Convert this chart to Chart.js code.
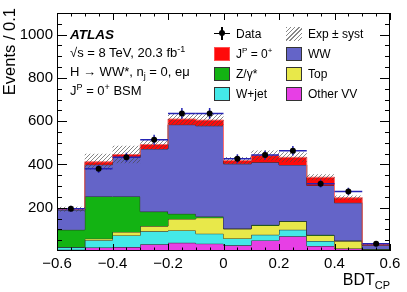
<!DOCTYPE html>
<html><head><meta charset="utf-8">
<script src="https://cdn.jsdelivr.net/npm/chart.js@4.4.0/dist/chart.umd.min.js"></script>
<style>
html,body{margin:0;padding:0;background:#fff;}
#wrap{position:relative;width:407px;height:292px;font-family:"Liberation Sans",Arial,Helvetica,sans-serif;color:#000;overflow:hidden;}
#c{position:absolute;left:0;top:0;}
.t{position:absolute;white-space:nowrap;line-height:14px;}
.sw{position:absolute;width:16px;height:14px;box-sizing:border-box;border:1px solid #333;}
sup,sub{line-height:0;}
</style></head><body>
<div id="wrap">
<canvas id="c" width="407" height="292"></canvas>
<div class="t" style="left:0;top:128px;width:120px;line-height:18px;text-align:right;font-size:16.5px;transform-origin:0 0;transform:rotate(-90deg);">Events / 0.1</div>
<div class="t" style="right:17px;top:270px;font-size:16px;line-height:20px;">BDT<sub style="font-size:11px;vertical-align:-4px;">CP</sub></div>

<div class="t" style="left:70px;top:28px;font-size:13.5px;font-weight:bold;font-style:italic;">ATLAS</div>
<div class="t" style="left:70px;top:46px;font-size:13px;">√s = 8 TeV, 20.3 fb<sup style="font-size:9px;vertical-align:5px;">-1</sup></div>
<div class="t" style="left:70px;top:65px;font-size:13px;">H → WW*, n<sub style="font-size:9px;vertical-align:-3px;">j</sub> = 0, eμ</div>
<div class="t" style="left:70px;top:84px;font-size:13px;">J<sup style="font-size:9px;vertical-align:5px;">P</sup> = 0<sup style="font-size:9px;vertical-align:5px;">+</sup> BSM</div>

<!-- legend column 1 -->
<div style="position:absolute;left:214px;top:32.5px;width:16px;height:1.5px;background:#000;"></div>
<div style="position:absolute;left:221.3px;top:27px;width:1.5px;height:13px;background:#000;"></div>
<div style="position:absolute;left:219px;top:30.3px;width:6px;height:6px;border-radius:50%;background:#000;"></div>
<div class="t" style="left:236px;top:26.5px;font-size:12px;">Data</div>
<div class="sw" style="left:214px;top:46.5px;background:#ff0a0a;border-color:#ff5050;"></div>
<div class="t" style="left:236px;top:46.5px;font-size:12px;">J<sup style="font-size:8px;vertical-align:5px;">P</sup> = 0<sup style="font-size:8px;vertical-align:5px;">+</sup></div>
<div class="sw" style="left:214px;top:66.5px;background:#13b313;"></div>
<div class="t" style="left:236px;top:66.5px;font-size:12px;">Z/γ*</div>
<div class="sw" style="left:214px;top:87px;background:#44e8e8;"></div>
<div class="t" style="left:236px;top:87px;font-size:12px;">W+jet</div>
<!-- legend column 2 -->
<div class="sw" style="left:286px;top:26.5px;border:none;background:repeating-linear-gradient(135deg,#888 0 1px,transparent 1px 3px);"></div>
<div class="t" style="left:308px;top:26.5px;font-size:12px;">Exp ± syst</div>
<div class="sw" style="left:286px;top:46.5px;background:#6464c8;"></div>
<div class="t" style="left:308px;top:46.5px;font-size:12px;">WW</div>
<div class="sw" style="left:286px;top:66.5px;background:#e8e84a;"></div>
<div class="t" style="left:308px;top:66.5px;font-size:12px;">Top</div>
<div class="sw" style="left:286px;top:87px;background:#e73fe5;"></div>
<div class="t" style="left:308px;top:87px;font-size:12px;">Other VV</div>
</div>
<script>
// ---- data ----
const binEdges = [-0.6,-0.5,-0.4,-0.3,-0.2,-0.1,0,0.1,0.2,0.3,0.4,0.5,0.6];
const otherVV  = [6,16,18,31,38,34,26,49,68,23,11,3];
const wJet     = [12,34,54,60,57,46,32,26,30,23,1,2];
const topQuark = [0,7,16,24,53,74,44,43,39,26,34,3];
const zGamma   = [80,195,164,67,24,6,2,3,2,3,2,1];
const wwBkg    = [92,147,181,290,412,419,299,289,259,228,175,18];
const signal0p = [3,13,13,20,26,26,15,31,35,38,23,5];
const systErr  = [12,37,40,22,26,28,16,23,23,14,10,3];
const dataVals = [195,380,433,514,636,636,426,444,463,311,275,34];
const dataErr  = [14,19,21,23,25,25,21,21,22,18,17,6];
const xTicks   = [-0.6,-0.4,-0.2,0,0.2,0.4,0.6];
const yTicks   = [200,400,600,800,1000];

// ---- build ----
function addArr(a,b){return a.map((v,i)=>v+b[i]);}
const cVV  = otherVV.slice();
const cWj  = addArr(cVV,wJet);
const cTop = addArr(cWj,topQuark);
const cZ   = addArr(cTop,zGamma);
const cWW  = addArr(cZ,wwBkg);
const cSig = addArr(cWW,signal0p);
const bandUp = cSig.map((v,i)=>v+systErr[i]);
const bandLo = cSig.map((v,i)=>v-systErr[i]);
function steps(vals){return binEdges.map((x,i)=>({x:x,y:vals[Math.min(i,vals.length-1)]}));}
const centers = binEdges.slice(0,-1).map((x,i)=>(x+binEdges[i+1])/2);
const dataPts = centers.map((x,i)=>({x:x,y:dataVals[i]}));

const canvas = document.getElementById('c');
const ctx = canvas.getContext('2d');
const pc = document.createElement('canvas'); pc.width=4; pc.height=4;
const g = pc.getContext('2d');
g.strokeStyle='rgba(70,70,70,0.65)'; g.lineWidth=1;
g.beginPath(); g.moveTo(0,4); g.lineTo(4,0); g.moveTo(-1,1); g.lineTo(1,-1); g.moveTo(3,5); g.lineTo(5,3); g.stroke();
const hatch = ctx.createPattern(pc,'repeat');

function stackDs(vals,fill,bg,border){
  return {data:steps(vals),stepped:true,fill:fill,backgroundColor:bg,borderColor:border,borderWidth:1,pointRadius:0};
}
const FONT = '"Liberation Sans", Arial, Helvetica, sans-serif';

const framePlugin = {
  id:'frame',
  beforeDatasetDraw(chart,args){
    if(args.index!==0) return;
    const x=chart.scales.x, y=chart.scales.y, c=chart.ctx;
    c.save();
    c.strokeStyle='#2424b4'; c.lineWidth=1.5;
    dataVals.forEach((v,i)=>{
      const py=y.getPixelForValue(v);
      c.beginPath();
      c.moveTo(x.getPixelForValue(binEdges[i]),py); c.lineTo(x.getPixelForValue(binEdges[i+1]),py);
      const px=x.getPixelForValue(centers[i]);
      c.moveTo(px,y.getPixelForValue(v-dataErr[i])); c.lineTo(px,y.getPixelForValue(v+dataErr[i]));
      c.stroke();
    });
    c.restore();
  },
  afterDraw(chart){
    const a=chart.chartArea, x=chart.scales.x, y=chart.scales.y, c=chart.ctx;
    c.save();
    c.strokeStyle='#000'; c.lineWidth=1;
    c.strokeRect(Math.round(a.left)+0.5,Math.round(a.top)+0.5,Math.round(a.right-a.left)-1,Math.round(a.bottom-a.top)-1);
    c.beginPath();
    for(let k=0;k<=24;k++){
      const v=-0.6+k*0.05;
      const px=Math.round(x.getPixelForValue(v))+0.5;
      const len=(k%4===0)?7:3.5;
      c.moveTo(px,a.bottom); c.lineTo(px,a.bottom-len);
      c.moveTo(px,a.top); c.lineTo(px,a.top+len);
    }
    for(let k=1;k<=22;k++){
      const v=k*50;
      const py=Math.round(y.getPixelForValue(v))+0.5;
      const len=(v%200===0)?10:5;
      c.moveTo(a.left,py); c.lineTo(a.left+len,py);
      c.moveTo(a.right,py); c.lineTo(a.right-len,py);
    }
    c.stroke();
    c.restore();
  }
};

new Chart(ctx,{
  type:'line',
  data:{datasets:[
    {data:dataPts,showLine:false,pointRadius:3,pointBackgroundColor:'#000',pointBorderWidth:0,borderWidth:0},
    {data:steps(bandUp),stepped:true,fill:false,borderWidth:0,pointRadius:0},
    {data:steps(bandLo),stepped:true,fill:'-1',backgroundColor:hatch,borderWidth:0,pointRadius:0},
    stackDs(cSig,'+1','#ff0a0a','rgba(255,110,110,1)'),
    stackDs(cWW,'+1','#6464c8','#262626'),
    stackDs(cZ,'+1','#13b313','#262626'),
    stackDs(cTop,'+1','#e8e84a','#262626'),
    stackDs(cWj,'+1','#44e8e8','#262626'),
    stackDs(cVV,'origin','#e73fe5','#262626')
  ]},
  options:{
    responsive:false,animation:false,devicePixelRatio:1,
    layout:{padding:{top:12,right:17,left:0,bottom:0}},
    plugins:{legend:{display:false},tooltip:{enabled:false}},
    scales:{
      x:{type:'linear',min:-0.6,max:0.6,
         grid:{display:false,drawTicks:false},border:{display:false},
         afterBuildTicks:s=>{s.ticks=xTicks.map(v=>({value:v}));},
         afterFit:s=>{s.height=41;},
         ticks:{color:'#000',font:{family:FONT,size:15},padding:4,maxRotation:0,autoSkip:false,
           callback:v=>Math.abs(v)<1e-9?'0':(v<0?'\u2212':'')+Math.abs(v).toFixed(1)}},
      y:{type:'linear',min:0,max:1100,
         grid:{display:false,drawTicks:false},border:{display:false},
         afterBuildTicks:s=>{s.ticks=yTicks.map(v=>({value:v}));},
         afterFit:s=>{s.width=57;},
         ticks:{color:'#000',font:{family:FONT,size:15},padding:4,callback:v=>String(v)}}
    }
  },
  plugins:[framePlugin]
});
</script>
</body></html>
